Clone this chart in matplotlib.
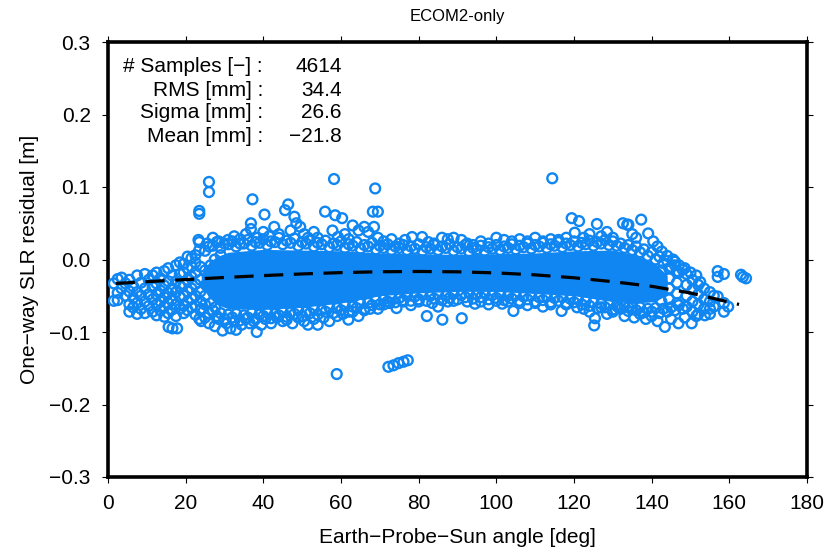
import matplotlib
matplotlib.use("Agg")
import matplotlib.pyplot as plt
import numpy as np

plt.rcParams['font.family'] = ['Liberation Sans', 'DejaVu Sans']

# ---------------- data ----------------
title = "ECOM2-only"
xlabel = "Earth\u2212Probe\u2212Sun angle [deg]"
ylabel = "One\u2212way SLR residual [m]"
x_ticks = [0, 20, 40, 60, 80, 100, 120, 140, 160, 180]
y_ticks = [-0.3, -0.2, -0.1, 0.0, 0.1, 0.2, 0.3]
y_tick_labels = ["\u22120.3", "\u22120.2", "\u22120.1", "0.0", "0.1", "0.2", "0.3"]

stat_names = ["# Samples [\u2212] :", "RMS [mm] :", "Sigma [mm] :", "Mean [mm] :"]
stat_values = ["4614", "34.4", "26.6", "\u221221.8"]

# innermost dense core of the residual cloud (circles overlap completely)
core_x = [24, 26, 28, 31, 40, 50, 60, 70, 80, 90, 100, 110, 120, 130, 136, 141, 144]
core_lo = [-0.036, -0.052, -0.062, -0.068, -0.069, -0.066, -0.060, -0.050, -0.046,
           -0.044, -0.044, -0.047, -0.050, -0.058, -0.060, -0.058, -0.048]
core_hi = [-0.020, -0.004, 0.004, 0.010, 0.014, 0.013, 0.012, 0.009, 0.008,
           0.007, 0.008, 0.009, 0.012, 0.013, 0.006, -0.006, -0.022]

# sparse low-angle points
left_pts = [
    (1.5, -0.057), (1.5, -0.033), (2.5, -0.046), (2.5, -0.027), (2.5, -0.056),
    (3.5, -0.025), (3.5, -0.040), (4.5, -0.050), (4.5, -0.033),
    (5.5, -0.062), (5.5, -0.028), (5.5, -0.044), (5.5, -0.072),
    (6.5, -0.037), (6.5, -0.053), (6.5, -0.066),
    (7.5, -0.022), (7.5, -0.045), (7.5, -0.060), (7.5, -0.075),
    (8.5, -0.032), (8.5, -0.050), (8.5, -0.068),
    (9.5, -0.020), (9.5, -0.040), (9.5, -0.058), (9.5, -0.074),
    (10.5, -0.028), (10.5, -0.048), (10.5, -0.064),
    (11.5, -0.022), (11.5, -0.038), (11.5, -0.055), (11.5, -0.072),
    (12.5, -0.018), (12.5, -0.033), (12.5, -0.048), (12.5, -0.062), (12.5, -0.077),
    (13.5, -0.026), (13.5, -0.043), (13.5, -0.058), (13.5, -0.070),
    (14.5, -0.016), (14.5, -0.036), (14.5, -0.052), (14.5, -0.065), (14.5, -0.079),
    (15.5, -0.012), (15.5, -0.030), (15.5, -0.046), (15.5, -0.060), (15.5, -0.074), (15.6, -0.093),
    (16.5, -0.022), (16.5, -0.040), (16.5, -0.055), (16.5, -0.069), (16.6, -0.095),
    (17.5, -0.008), (17.5, -0.030), (17.5, -0.045), (17.5, -0.062), (17.5, -0.078), (17.8, -0.095),
    (18.5, -0.004), (18.5, -0.020), (18.5, -0.037), (18.5, -0.052), (18.5, -0.068),
    (19.5, -0.006), (19.5, -0.018), (19.5, -0.034), (19.5, -0.050), (19.5, -0.064), (19.5, -0.074),
    (20.5, 0.004), (20.5, -0.012), (20.5, -0.028), (20.5, -0.044), (20.5, -0.058), (20.5, -0.070),
    (21.5, 0.002), (21.5, -0.010), (21.5, -0.024), (21.5, -0.040), (21.5, -0.054), (21.5, -0.066),
    (22.5, 0.006), (22.5, -0.004), (22.5, -0.018), (22.5, -0.034), (22.5, -0.050), (22.5, -0.064), (22.5, -0.076),
    (23.5, 0.063), (23.5, 0.067), (23.5, 0.013), (23.5, 0.024), (23.5, -0.082),
    (23.8, -0.010), (23.8, -0.028), (23.8, -0.044), (23.8, -0.058), (23.8, -0.070),
    (25.0, -0.015), (25.2, -0.035), (25.0, -0.050), (26.4, -0.008), (26.6, -0.060),
    (27.5, 0.000), (27.6, -0.066), (29.0, 0.006),
    (26.0, 0.107), (26.0, 0.093),
]

# points above the dense core
upper_pts = [
    (23.3, 0.027), (25.5, 0.022), (27.0, 0.030), (28.5, 0.025), (30.9, 0.027), (32.5, 0.032),
    (34.0, 0.028), (35.5, 0.035), (36.8, 0.050), (36.8, 0.042), (37.2, 0.083), (38.5, 0.030),
    (40.3, 0.062), (40.0, 0.038), (41.5, 0.032), (42.8, 0.045), (44.0, 0.035), (45.6, 0.068),
    (46.4, 0.076), (47.0, 0.040), (48.0, 0.059), (48.5, 0.050), (49.5, 0.045), (50.5, 0.035),
    (51.5, 0.030), (53.0, 0.038), (54.0, 0.030), (55.9, 0.066), (57.8, 0.040), (58.2, 0.111),
    (58.5, 0.061), (59.2, 0.031), (60.3, 0.057), (61.0, 0.035), (62.0, 0.028), (63.0, 0.047),
    (64.5, 0.040), (66.0, 0.045), (67.0, 0.038), (68.2, 0.066), (69.5, 0.066), (68.8, 0.098),
    (68.5, 0.045), (69.5, 0.030), (71.0, 0.025), (73.0, 0.028), (75.0, 0.022), (76.5, 0.027),
    (78.3, 0.031), (80.9, 0.031), (82.5, 0.024), (84.0, 0.022), (86.0, 0.030), (87.5, 0.028),
    (89.0, 0.030), (91.0, 0.027), (92.5, 0.022), (94.0, 0.020), (96.0, 0.025), (98.0, 0.022),
    (100.0, 0.030), (102.0, 0.027), (104.0, 0.025), (106.0, 0.028), (108.0, 0.025), (110.0, 0.030),
    (112.0, 0.025), (114.4, 0.112), (114.0, 0.028), (116.0, 0.027), (118.0, 0.030), (119.4, 0.057),
    (121.3, 0.053), (120.2, 0.037), (122.5, 0.030), (124.0, 0.035), (125.9, 0.049), (127.0, 0.032),
    (128.5, 0.038), (130.0, 0.030), (132.6, 0.050), (133.7, 0.048), (134.0, 0.048), (135.0, 0.035),
    (136.0, 0.030), (137.3, 0.055), (139.1, 0.036), (140.4, 0.025), (141.5, 0.018), (142.6, 0.011),
    (144.0, 0.005), (145.5, 0.000), (146.0, -0.003), (147.0, -0.008), (148.5, -0.012), (150.0, -0.018),
    (151.5, -0.022), (152.5, -0.031),
    (26, 0.018), (28, 0.024), (30, 0.022), (32, 0.025), (34, 0.022), (36, 0.027), (38, 0.024),
    (40, 0.028), (42, 0.025), (44, 0.030), (46, 0.026), (48, 0.029), (50, 0.024), (52, 0.027),
    (54, 0.023), (56, 0.026), (58, 0.022), (60, 0.025), (62, 0.021), (64, 0.024), (66, 0.020),
    (68, 0.023), (70, 0.019), (72, 0.021), (74, 0.018), (76, 0.020), (78, 0.018), (80, 0.021),
    (82, 0.017), (84, 0.020), (86, 0.018), (88, 0.021), (90, 0.017), (92, 0.020), (94, 0.016),
    (96, 0.019), (98, 0.017), (100, 0.020), (102, 0.018), (104, 0.021), (106, 0.019), (108, 0.022),
    (110, 0.020), (112, 0.023), (114, 0.021), (116, 0.024), (118, 0.022), (120, 0.025), (122, 0.023),
    (124, 0.026), (126, 0.024), (128, 0.027), (130, 0.025), (132, 0.022), (134, 0.020), (136, 0.018),
    (138, 0.014), (140, 0.010), (142, 0.004), (144, -0.002), (146, -0.008), (148, -0.014),
    (25, 0.012), (27, 0.019), (29, 0.016), (31, 0.021), (33, 0.018), (35, 0.022), (37, 0.019),
    (39, 0.023), (41, 0.020), (43, 0.024), (45, 0.021), (47, 0.023), (49, 0.019), (51, 0.022),
    (53, 0.018), (55, 0.021), (57, 0.017), (59, 0.020), (61, 0.016), (63, 0.019), (65, 0.015),
    (67, 0.018), (69, 0.014), (71, 0.016), (73, 0.013), (75, 0.016), (77, 0.013), (79, 0.015),
    (81, 0.012), (83, 0.015), (85, 0.013), (87, 0.016), (89, 0.012), (91, 0.015), (93, 0.011),
    (95, 0.014), (97, 0.012), (99, 0.015), (101, 0.013), (103, 0.016), (105, 0.014), (107, 0.017),
    (109, 0.015), (111, 0.018), (113, 0.016), (115, 0.019), (117, 0.017), (119, 0.020), (121, 0.018),
    (123, 0.021), (125, 0.019), (127, 0.022), (129, 0.020), (131, 0.019), (133, 0.016), (135, 0.013),
    (137, 0.010), (139, 0.005), (141, 0.000), (143, -0.005), (145, -0.010), (147, -0.018),
]

# points below the dense core (incl. the isolated low outliers)
lower_pts = [
    (24.0, -0.085), (25.0, -0.080), (26.0, -0.088), (27.5, -0.092), (28.5, -0.082), (29.5, -0.098),
    (30.5, -0.088), (31.5, -0.095), (32.5, -0.085), (33.0, -0.097), (34.4, -0.090), (35.5, -0.082),
    (36.5, -0.088), (37.5, -0.085), (38.3, -0.100), (39.5, -0.090), (40.5, -0.082), (42.0, -0.088),
    (43.5, -0.080), (45.0, -0.085), (46.0, -0.083), (47.5, -0.088), (49.0, -0.080), (50.5, -0.085),
    (51.5, -0.090), (53.0, -0.082), (54.0, -0.090), (55.5, -0.080), (57.0, -0.085), (58.9, -0.158),
    (59.0, -0.078), (60.5, -0.075), (61.9, -0.083), (63.0, -0.072), (64.5, -0.078), (66.0, -0.070),
    (67.5, -0.068), (69.5, -0.068), (71.0, -0.062), (72.2, -0.148), (73.5, -0.146), (74.8, -0.143),
    (76.1, -0.141), (77.2, -0.139), (72.5, -0.060), (74.3, -0.067), (76.0, -0.058), (78.0, -0.063),
    (80.0, -0.058), (82.1, -0.078), (83.5, -0.060), (85.0, -0.065), (86.1, -0.083), (87.5, -0.058),
    (89.0, -0.057), (91.1, -0.081), (92.5, -0.058), (94.5, -0.061), (96.0, -0.058), (98.0, -0.062),
    (100.0, -0.057), (101.5, -0.061), (103.0, -0.058), (104.4, -0.071), (106.0, -0.060), (108.0, -0.063),
    (110.0, -0.060), (112.0, -0.065), (114.0, -0.062), (116.8, -0.071), (118.0, -0.062), (120.8, -0.066),
    (122.5, -0.068), (124.0, -0.072), (125.4, -0.081), (125.2, -0.091), (127.0, -0.066), (128.5, -0.075),
    (130.0, -0.072), (131.5, -0.066), (133.0, -0.078), (134.0, -0.066), (135.5, -0.080), (137.0, -0.075),
    (138.5, -0.082), (140.0, -0.078), (141.5, -0.085), (143.4, -0.093), (145.0, -0.082), (146.9, -0.088),
    (148.5, -0.080), (150.3, -0.088), (151.5, -0.078), (153.7, -0.077), (155.0, -0.068),
    (24, -0.068), (26, -0.074), (28, -0.078), (30, -0.082), (32, -0.080), (34, -0.084), (36, -0.080),
    (38, -0.082), (40, -0.078), (42, -0.081), (44, -0.077), (46, -0.079), (48, -0.075), (50, -0.078),
    (52, -0.074), (54, -0.076), (56, -0.072), (58, -0.074), (60, -0.070), (62, -0.072), (64, -0.067),
    (66, -0.068), (68, -0.063), (70, -0.062), (72, -0.058), (74, -0.059), (76, -0.056), (78, -0.057),
    (80, -0.055), (82, -0.057), (84, -0.054), (86, -0.056), (88, -0.053), (90, -0.055), (92, -0.052),
    (94, -0.054), (96, -0.052), (98, -0.055), (100, -0.053), (102, -0.056), (104, -0.054), (106, -0.057),
    (108, -0.055), (110, -0.058), (112, -0.056), (114, -0.059), (116, -0.057), (118, -0.060), (120, -0.059),
    (122, -0.062), (124, -0.064), (126, -0.067), (128, -0.066), (130, -0.069), (132, -0.068), (134, -0.071),
    (136, -0.070), (138, -0.073), (140, -0.072), (142, -0.074), (144, -0.072), (146, -0.070), (148, -0.068),
    (25, -0.062), (27, -0.070), (29, -0.074), (31, -0.076), (33, -0.075), (35, -0.077), (37, -0.074),
    (39, -0.076), (41, -0.073), (43, -0.075), (45, -0.072), (47, -0.073), (49, -0.070), (51, -0.072),
    (53, -0.068), (55, -0.070), (57, -0.066), (59, -0.067), (61, -0.064), (63, -0.065), (65, -0.061),
    (67, -0.060), (69, -0.056), (71, -0.055), (73, -0.052), (75, -0.053), (77, -0.050), (79, -0.051),
    (81, -0.049), (83, -0.050), (85, -0.048), (87, -0.050), (89, -0.047), (91, -0.049), (93, -0.046),
    (95, -0.048), (97, -0.047), (99, -0.049), (101, -0.048), (103, -0.050), (105, -0.049), (107, -0.051),
    (109, -0.050), (111, -0.052), (113, -0.051), (115, -0.053), (117, -0.052), (119, -0.054), (121, -0.055),
    (123, -0.057), (125, -0.059), (127, -0.061), (129, -0.062), (131, -0.064), (133, -0.064), (135, -0.066),
    (137, -0.066), (139, -0.068), (141, -0.067), (143, -0.068), (145, -0.066), (147, -0.063),
]

# high-angle tail
right_pts = [
    (142.5, -0.015), (142.5, -0.030), (142.5, -0.045), (142.5, -0.058),
    (144.5, -0.012), (144.5, -0.026), (144.5, -0.040), (144.5, -0.055),
    (146.5, -0.016), (146.5, -0.032), (146.5, -0.047), (146.5, -0.060),
    (149.0, -0.020), (149.0, -0.035), (149.0, -0.050), (149.0, -0.065),
    (150.5, -0.028), (150.5, -0.042), (150.5, -0.058), (150.5, -0.072),
    (152.0, -0.035), (152.0, -0.048), (152.0, -0.062), (152.0, -0.075),
    (153.5, -0.040), (153.5, -0.055), (153.5, -0.068),
    (155.0, -0.045), (155.0, -0.058), (155.0, -0.075),
    (156.0, -0.050), (156.0, -0.065),
    (157.0, -0.016), (157.0, -0.024), (157.0, -0.051),
    (158.6, -0.020), (158.6, -0.060), (158.6, -0.072), (159.7, -0.065),
    (163.0, -0.021), (163.5, -0.024), (164.3, -0.026),
]

# fitted trend (dashed black)
fit_x = [2, 10, 20, 30, 40, 50, 60, 70, 80, 90, 100, 110, 120, 130, 140, 150, 162.5]
fit_y = [-0.033, -0.0306, -0.0277, -0.0248, -0.0222, -0.0199, -0.0181, -0.0169, -0.0165,
         -0.0170, -0.0185, -0.0212, -0.0252, -0.0306, -0.0370, -0.0462, -0.062]

blue = '#0F86F2'

# ---------------- figure ----------------
fig = plt.figure(figsize=(8.27, 5.53), dpi=100)
ax = fig.add_axes([108/827, 76/553, 699/827, 435/553])

ax.fill_between(core_x, core_lo, core_hi, color=blue, linewidth=0, zorder=2)

all_pts = left_pts + upper_pts + lower_pts + right_pts
px = [p[0] for p in all_pts]
py = [p[1] for p in all_pts]
ax.scatter(px, py, s=50, facecolors='none', edgecolors=blue, linewidths=1.7, zorder=3)

line, = ax.plot(fit_x, fit_y, color='black', linewidth=2.3, zorder=4)
line.set_dashes([6.0, 3.3])

ax.set_xlim(0, 180)
ax.set_ylim(-0.3, 0.3)
ax.set_xticks(x_ticks)
ax.set_yticks(y_ticks)
ax.set_yticklabels(y_tick_labels)
for sp in ax.spines.values():
    sp.set_linewidth(2.6)
ax.tick_params(direction='out', length=4.5, width=0.8, top=True, right=True,
               labelsize=15, pad=8, colors='black')

ax.set_xlabel(xlabel, fontsize=15)
ax.set_ylabel(ylabel, fontsize=15)
ax.xaxis.set_label_coords(0.5, -0.117)
ax.yaxis.set_label_coords(-0.099, 0.5)

ax.text(0.5, (477 - 16) / 435, title, transform=ax.transAxes, ha='center', va='center', fontsize=12)

row_y = [(477 - 67) / 435, (477 - 90) / 435, (477 - 113) / 435, (477 - 136) / 435]
for name, val, yy in zip(stat_names, stat_values, row_y):
    ax.text((263 - 108) / 699, yy, name, transform=ax.transAxes, ha='right', va='center', fontsize=15)
    ax.text((342 - 108) / 699, yy, val, transform=ax.transAxes, ha='right', va='center', fontsize=15)

fig.savefig('out.png', dpi=100)
